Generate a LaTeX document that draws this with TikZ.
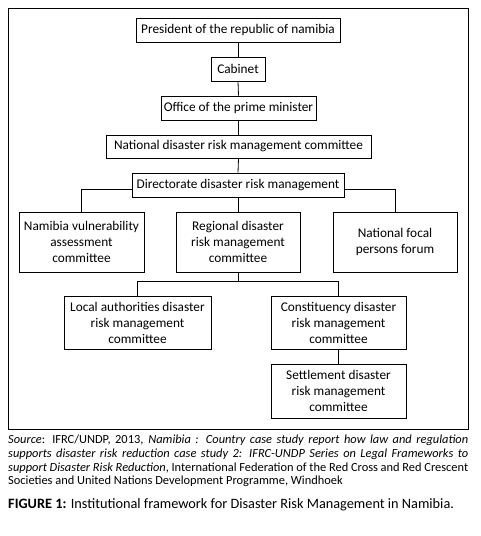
\documentclass[tikz,border=0pt]{standalone}
\usepackage{fontspec}
\setmainfont{Carlito}
\begin{document}
\begin{tikzpicture}[x=1pt,y=-1pt,
  box/.style={draw,line width=0.9pt,fill=white,align=center,inner sep=0pt,
    font=\fontsize{13.3}{16}\selectfont},
  conn/.style={line width=0.8pt}]
\useasboundingbox (0,0) rectangle (481,536);
\draw[line width=0.8pt] (8,8) rectangle (468,429);
\node[box,minimum width=204pt,minimum height=24pt] (pres) at (238,30) {President of the republic of namibia};
\node[box,minimum width=54pt,minimum height=24pt] (cab) at (238,69) {Cabinet};
\node[box,minimum width=155pt,minimum height=24pt] (opm) at (238.5,108) {Office of the prime minister};
\node[box,minimum width=265pt,minimum height=23pt] (ndrm) at (238.5,146.5) {National disaster risk management committee};
\coordinate (bh) at (0,189);
\coordinate (rh) at (0,281);
\node[box,minimum width=125pt,minimum height=60pt] (nva) at (81.5,242) {Namibia vulnerability\\assessment\\committee};
\node[box,minimum width=124pt,minimum height=60pt] (reg) at (238,242) {Regional disaster\\risk management\\committee};
\node[box,minimum width=124pt,minimum height=60pt] (nfp) at (395,242) {National focal\\persons forum};
\node[box,minimum width=147pt,minimum height=53pt] (lad) at (137.5,322.5) {Local authorities disaster\\risk management\\committee};
\node[box,minimum width=135pt,minimum height=53pt] (con) at (338.5,322.5) {Constituency disaster\\risk management\\committee};
\node[box,minimum width=135pt,minimum height=54pt] (set) at (338.5,391) {Settlement disaster\\risk management\\committee};
\draw[conn] (pres.south) -- (cab.north);
\draw[conn] (cab.south) -- (opm.north);
\draw[conn] (opm.south) -- (ndrm.north);
\draw[conn] (nva.north) |- (nfp.north |- bh) -- (nfp.north);
\node[box,minimum width=212pt,minimum height=24pt] (dir) at (238,185) {Directorate disaster risk management};
\draw[conn] (ndrm.south) -- (dir.north);
\draw[conn] (dir.south) -- (reg.north);
\draw[conn] (reg.south) -- (reg.south |- rh);
\draw[conn] (lad.north) |- (con.north |- rh) -- (con.north);
\draw[conn] (con.south) -- (set.north);
\node[anchor=north west,inner sep=0pt,text width=460pt,align=justify,
  font=\fontsize{12.4}{13.6}\selectfont] (src) at (8,435)
{\textit{Source}: IFRC/UNDP, 2013, \textit{Namibia : Country case study report how law and regulation}\linebreak
\textit{supports disaster risk reduction case study 2: IFRC-UNDP Series on Legal Frameworks to}\linebreak
\textit{support Disaster Risk Reduction}, International Federation of the Red Cross and Red Crescent\linebreak
Societies and United Nations Development Programme, Windhoek};
\node[anchor=base west,inner sep=0pt,font=\fontsize{14.3}{16}\selectfont] (fig) at (8,508)
{\textbf{FIGURE 1:} Institutional framework for Disaster Risk Management in Namibia.};
\end{tikzpicture}
\end{document}
